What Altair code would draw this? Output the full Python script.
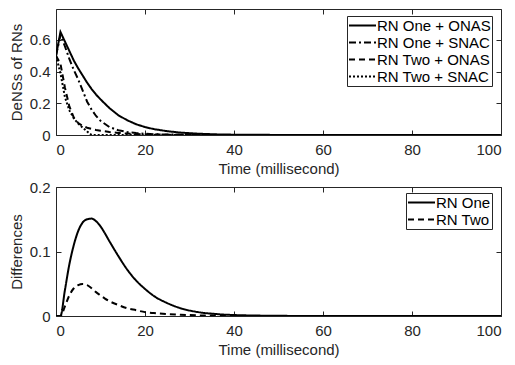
import altair as alt
import pandas as pd

# ---------------- data ----------------
time_top = [0, 1, 2, 3, 4, 5, 6, 7, 8, 9, 10, 12, 14, 16, 18, 20, 22, 25, 28, 32, 36, 40, 50, 60, 80, 100]
rn1_onas = [0.50, 0.65, 0.59, 0.53, 0.47, 0.42, 0.375, 0.33, 0.29, 0.255, 0.225, 0.17, 0.125, 0.093, 0.068,
            0.05, 0.037, 0.024, 0.015, 0.008, 0.004, 0.002, 0.0005, 0, 0, 0]
rn1_snac = [0.50, 0.63, 0.56, 0.48, 0.41, 0.35, 0.28, 0.21, 0.16, 0.12, 0.09, 0.05, 0.03, 0.019, 0.012,
            0.008, 0.005, 0.003, 0.002, 0.001, 0, 0, 0, 0, 0, 0]
rn2_onas = [0.50, 0.45, 0.30, 0.18, 0.11, 0.075, 0.057, 0.046, 0.038, 0.032, 0.027, 0.019, 0.013, 0.009,
            0.006, 0.004, 0.003, 0.002, 0.001, 0, 0, 0, 0, 0, 0, 0]
rn2_snac = [0.50, 0.39, 0.24, 0.155, 0.105, 0.072, 0.046, 0.022, 0, 0, 0, 0, 0, 0, 0, 0, 0, 0, 0, 0, 0,
            0, 0, 0, 0, 0]
names_top = ["RN One + ONAS", "RN One + SNAC", "RN Two + ONAS", "RN Two + SNAC"]

time_bot = [0, 1, 2, 3, 4, 5, 6, 7, 8, 9, 10, 11, 12, 14, 16, 18, 20, 22, 25, 28, 32, 36, 40, 50, 60, 80, 100]
rn1_diff = [0, 0, 0.04, 0.08, 0.11, 0.132, 0.145, 0.15, 0.151, 0.147, 0.139, 0.128, 0.116, 0.093, 0.072,
            0.055, 0.042, 0.031, 0.02, 0.012, 0.006, 0.003, 0.0015, 0.0003, 0, 0, 0]
rn2_diff = [0, 0, 0.015, 0.032, 0.043, 0.048, 0.0496, 0.048, 0.043, 0.037, 0.032, 0.027, 0.023, 0.017,
            0.012, 0.009, 0.006, 0.0045, 0.003, 0.002, 0.001, 0.0005, 0, 0, 0, 0, 0]
names_bot = ["RN One", "RN Two"]

x_ticks = [0, 20, 40, 60, 80, 100]
y_ticks_top = [0, 0.2, 0.4, 0.6]
y_ticks_bot = [0, 0.1, 0.2]

# ---------------- tables ----------------
rows = []
for name, vals in zip(names_top, [rn1_onas, rn1_snac, rn2_onas, rn2_snac]):
    for t, v in zip(time_top, vals):
        rows.append({"t": t, "v": v, "series": name})
df_top = pd.DataFrame(rows)

rows = []
for name, vals in zip(names_bot, [rn1_diff, rn2_diff]):
    for t, v in zip(time_bot, vals):
        rows.append({"t": t, "v": v, "series2": name})
df_bot = pd.DataFrame(rows)

FONT = "Liberation Sans"
INK = "#262626"
W = 445
LW = 2


def main_axis_x():
    return alt.Axis(values=x_ticks, title="Time (millisecond)", orient="bottom", offset=-5, tickSize=5,
                    labelPadding=7, titlePadding=4, domain=False, grid=False)


def tick_axis(orient, values):
    return alt.Axis(values=values, orient=orient, offset=-5, tickSize=5, labels=False, title=None,
                    domain=False, grid=False)


def legend(x, y):
    return alt.Legend(title=None, orient="none", legendX=x, legendY=y, strokeColor=INK, fillColor="white",
                      padding=1, labelFontSize=15, labelFont=FONT, labelColor="black",
                      symbolType="M-1.8,0H1.8", symbolSize=225, symbolOffset=6,
                      symbolStrokeWidth=LW, symbolStrokeColor="black", labelOffset=6,
                      rowPadding=0, cornerRadius=0)


def panel(df, field, names, dashes, ydom, yticks, ytitle, H, leg, interp):
    xs = alt.Scale(domain=[0, 100], nice=False)
    ys = alt.Scale(domain=ydom, nice=False, zero=True)
    lines = alt.Chart(df).mark_line(color="black", strokeWidth=LW, interpolate=interp, clip=True).encode(
        x=alt.X("t:Q", scale=xs, axis=main_axis_x()),
        y=alt.Y("v:Q", scale=ys, axis=alt.Axis(values=yticks, title=ytitle, orient="left", offset=-5,
                                                 tickSize=5, labelPadding=6, titlePadding=5, format="~g",
                                                 domain=False, grid=False)),
        strokeDash=alt.StrokeDash(f"{field}:N", scale=alt.Scale(domain=names, range=dashes), legend=leg),
    )
    ghost = alt.Chart(df).mark_line(strokeOpacity=0).encode(
        x=alt.X("t:Q", scale=xs, axis=tick_axis("top", x_ticks)),
        y=alt.Y("v:Q", scale=ys, axis=tick_axis("right", yticks)),
        detail=f"{field}:N",
    )
    return alt.layer(lines, ghost).resolve_axis(x="independent", y="independent").properties(width=W, height=H)


top = panel(df_top, "series", names_top, [[1, 0], [7, 3, 2, 3], [6, 4], [2, 2]],
            [0, 0.795], y_ticks_top, "DeNSs of RNs", 126, legend(291, 7), "linear")
bot = panel(df_bot, "series2", names_bot, [[1, 0], [6, 4]],
            [0, 0.2], y_ticks_bot, "Differences", 129, legend(350, 6), "monotone")

chart = alt.vconcat(top, bot, spacing=2).resolve_scale(
    strokeDash="independent", x="independent", y="independent"
).resolve_legend(strokeDash="independent").properties(
    padding=0
).configure_axis(
    labelFont=FONT, titleFont=FONT, labelFontSize=15, titleFontSize=15, titleFontWeight="normal",
    labelColor=INK, titleColor=INK, tickColor=INK, tickWidth=1
).configure_view(stroke=INK, strokeWidth=1)

chart.save("out.html", embed_options={"renderer": "svg", "actions": False})
